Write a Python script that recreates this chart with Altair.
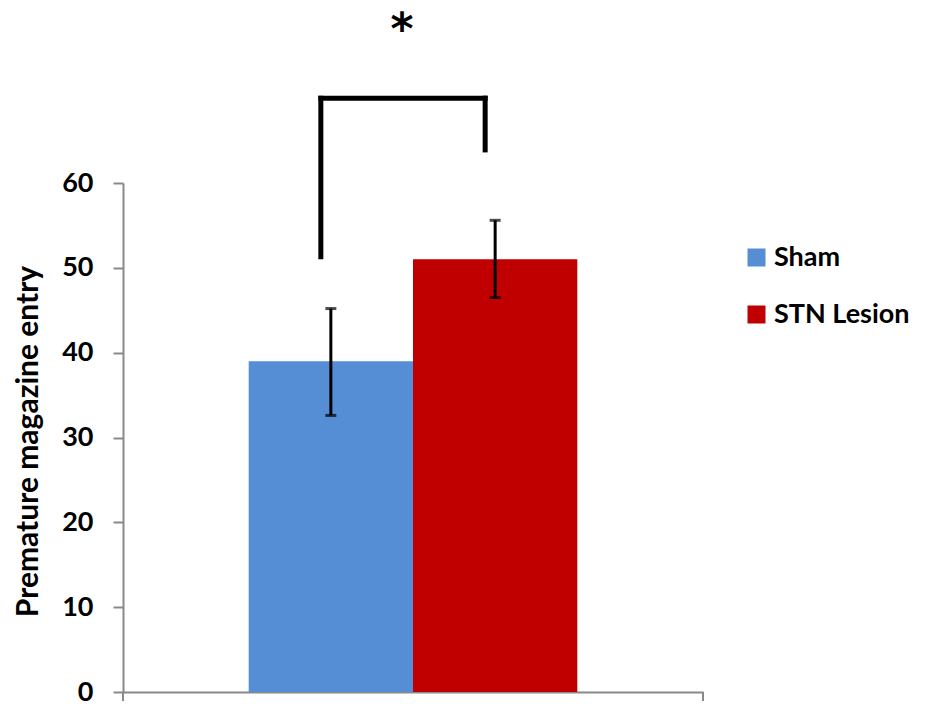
import altair as alt
import pandas as pd

groups = ["Sham", "STN Lesion"]
means = [39.0, 51.0]
err_low = [32.6, 46.5]
err_high = [45.2, 55.6]
colors = ["#558ED5", "#C00000"]
bracket_bottom = [51.3, 63.9]
bracket_top = [70.0, 70.0]
star_y = [80.5]
y_ticks = [0, 10, 20, 30, 40, 50, 60]

df = pd.DataFrame({
    "group": groups,
    "mean": means,
    "lo": err_low,
    "hi": err_high,
    "bb": bracket_bottom,
    "bt": bracket_top,
})
top_df = pd.DataFrame({"a": [groups[0]], "b": [groups[1]], "y": [bracket_top[0]], "s": star_y, "t": ["*"]})

FONT = "Lato"
GREY = "#898989"

xscale = alt.Scale(domain=groups, paddingInner=0, paddingOuter=0.765)
yscale = alt.Scale(domain=[0, 60], nice=False, zero=True)

xaxis = alt.Axis(labels=False, ticks=False, title=None, grid=False,
                 domainColor=GREY, domainWidth=2)
yaxis = alt.Axis(values=y_ticks, grid=False, domainColor=GREY, domainWidth=2,
                 tickColor=GREY, tickWidth=2, tickSize=10, labelPadding=20,
                 labelFont=FONT, labelFontSize=27, labelFontWeight="bold", labelColor="black",
                 title="Premature magazine entry", titleFont=FONT, titleFontSize=30,
                 titleFontWeight="bold", titleColor="black",
                 titleX=-95, titleY=258, titleAngle=270, titleAlign="center", titleBaseline="middle")

base = alt.Chart(df)

bars = base.mark_bar().encode(
    x=alt.X("group:N", scale=xscale, axis=xaxis, sort=groups),
    y=alt.Y("mean:Q", scale=yscale, axis=yaxis),
    color=alt.Color("group:N", scale=alt.Scale(domain=groups, range=colors),
                    legend=alt.Legend(title=None, orient="none", legendX=620, legendY=61,
                                      symbolType="square", symbolSize=324, symbolStrokeWidth=0,
                                      labelFont=FONT, labelFontSize=27, labelFontWeight="bold",
                                      labelColor="black", rowPadding=29, labelOffset=4, padding=0,
                                      labelLimit=400)),
)

err = base.mark_rule(strokeWidth=3, color="black").encode(
    x=alt.X("group:N", sort=groups), y="lo:Q", y2="hi:Q")
cap_lo = base.mark_tick(size=11, thickness=3, color="black").encode(
    x=alt.X("group:N", sort=groups), y="lo:Q")
cap_hi = base.mark_tick(size=11, thickness=3, color="black").encode(
    x=alt.X("group:N", sort=groups), y="hi:Q")

legs = base.mark_rule(strokeWidth=5, color="black", xOffset=-10, strokeCap="square").encode(
    x=alt.X("group:N", sort=groups), y="bb:Q", y2="bt:Q")

top = alt.Chart(top_df).mark_rule(strokeWidth=5, color="black", xOffset=-10, x2Offset=-10,
                                  strokeCap="square").encode(
    x=alt.X("a:N", bandPosition=0.5), x2=alt.X2("b", bandPosition=0.5), y="y:Q")

star = alt.Chart(top_df).mark_text(fontSize=44, fontWeight="bold", font="DejaVu Sans", color="black",
                                   dx=-11, baseline="top", align="center").encode(
    x=alt.X("b:N", bandPosition=0), y="s:Q", text="t:N")

tick_l = alt.Chart(top_df).mark_rule(color=GREY, strokeWidth=2).encode(
    x=alt.value(0), y=alt.value(509), y2=alt.value(518))
tick_r = alt.Chart(top_df).mark_rule(color=GREY, strokeWidth=2).encode(
    x=alt.value(580), y=alt.value(509), y2=alt.value(518))

chart = alt.layer(bars, err, cap_lo, cap_hi, legs, top, star, tick_l, tick_r).properties(
    width=580, height=509,
    padding={"left": 115, "top": 175, "right": 210, "bottom": 14},
    autosize=alt.AutoSizeParams(type="none"),
).configure_view(stroke=None)

chart.save("out.html", embed_options={"renderer": "svg", "actions": False})
